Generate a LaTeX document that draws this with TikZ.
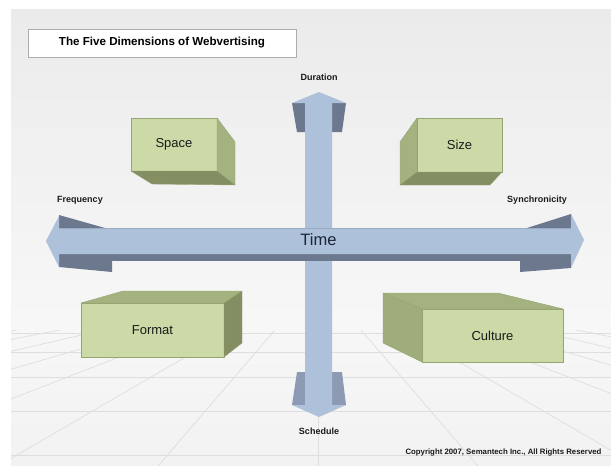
\documentclass[tikz,border=0pt]{standalone}
\usepackage{fontspec}
\setmainfont{Liberation Sans}
\setsansfont{Liberation Sans}
\usetikzlibrary{positioning, calc}
\definecolor{slideTop}{HTML}{EBEBEB}
\definecolor{slideMid}{HTML}{F7F7F7}
\definecolor{floorBot}{HTML}{F2F2F2}
\definecolor{gridln}{HTML}{DEDEDE}
\definecolor{arFace}{HTML}{AEC1DA}
\definecolor{arEdge}{HTML}{9AAAC2}
\definecolor{arDark}{HTML}{6C788D}
\definecolor{arMid}{HTML}{8C9BB3}
\definecolor{bxFront}{HTML}{CCDAA7}
\definecolor{bxLine}{HTML}{95A472}
\definecolor{bxSide}{HTML}{A3B27E}
\definecolor{bxDark}{HTML}{838F63}
\definecolor{ink}{HTML}{1A1A1A}
\definecolor{inkT}{HTML}{1B2538}

\begin{document}
\begin{tikzpicture}[
    x=1pt, y=-1pt,
    font=\sffamily,
    face/.style={
        rectangle, draw=bxLine, fill=bxFront, line width=0.4pt,
        inner sep=0pt, outer sep=0pt, text=ink,
        font=\sffamily\fontsize{13}{15}\selectfont
    },
    lightside/.style={draw=bxLine, fill=bxSide, line width=0.4pt, line join=round},
    darkside/.style={draw=bxLine, fill=bxDark, line width=0.4pt, line join=round},
    wing/.style={fill=arDark},
    lowwing/.style={fill=arMid},
    axislbl/.style={font=\sffamily\bfseries\fontsize{9}{11}\selectfont, text=ink},
    titlebox/.style={
        rectangle, draw=gray!65, fill=white, line width=0.6pt,
        minimum width=268pt, minimum height=28pt, inner sep=0pt,
        font=\sffamily\bfseries\fontsize{11.6}{13}\selectfont, text=black
    },
]
\useasboundingbox (0,0) rectangle (611,466);

% ---------------------------------------------------------------- slide and floor
\fill[white] (0,0) rectangle (611,466);
\fill[top color=slideTop, bottom color=slideMid] (11,9) rectangle (611,320);
\fill[top color=slideMid, bottom color=floorBot] (11,320) rectangle (611,466);
\begin{scope}
    \clip (11,330) rectangle (611,466);
    \foreach \yy in {333,352,377,411,455}
        \draw[gridln, line width=0.7pt] (11,\yy) -- (611,\yy);
    \foreach \k in {-8,...,8}
        \draw[gridln, line width=0.7pt] (318,280) -- ($(318,280)!2.2!(318+160*\k,466)$);
\end{scope}

\node (title) [titlebox] at (162,43) {The Five Dimensions of Webvertising};

% ---------------------------------------------------------------- boxes
\node (space) [face, minimum width=86pt, minimum height=53pt] at (174,144.5) {Space};
\draw[lightside] (space.north east) -- ++(18,24) -- ++(0,43) -- (space.south east) -- cycle;
\draw[darkside]  (space.south west) -- (space.south east) -- ++(18,14) -- ++(-83,-1) -- cycle;

\node (size) [face, minimum width=85pt, minimum height=54pt] at (459.5,145) {Size};
\draw[lightside] (size.north west) -- ++(-17,24) -- ++(0,43) -- (size.south west) -- cycle;
\draw[darkside]  (size.south west) -- (size.south east) -- ++(-12,13) -- ++(-90,0) -- cycle;

\node (format) [face, minimum width=143pt, minimum height=54pt] at (152.5,330) {Format};
\draw[lightside] (format.north west) -- ++(42,-12) -- ++(119,0) -- (format.north east) -- cycle;
\draw[darkside]  (format.north east) -- ++(18,-12) -- ++(0,52) -- (format.south east) -- cycle;

\node (culture) [face, minimum width=141pt, minimum height=53pt] at (492.5,335.5) {Culture};
\draw[lightside] (culture.north west) -- ++(-39,-16) -- ++(115,0) -- (culture.north east) -- cycle;
\draw[lightside, fill=bxSide!85!bxDark] (culture.north west) -- ++(-39,-16) -- ++(0,50) -- (culture.south west) -- cycle;

% ---------------------------------------------------------------- vertical arrow
\fill[wing]    (292,103) -- (305,103) -- (305,132) -- (297,132) -- cycle;
\fill[wing]    (332,103) -- (346,103) -- (342,132) -- (332,132) -- cycle;
\fill[lowwing] (297,372) -- (305,372) -- (305,405) -- (292,405) -- cycle;
\fill[lowwing] (332,372) -- (342,372) -- (346,405) -- (332,405) -- cycle;
\fill[arFace]  (319,92) -- (346,103) -- (332,103) -- (332,405) -- (346,405)
    -- (319,417) -- (292,405) -- (305,405) -- (305,103) -- (292,103) -- cycle;

% ---------------------------------------------------------------- horizontal arrow
\fill[wing] (59,215) -- (105,228) -- (59,228) -- cycle;
\fill[wing] (59,254) -- (112,254) -- (112,272) -- (59,267) -- cycle;
\fill[wing] (571,214) -- (527,228) -- (571,228) -- cycle;
\fill[wing] (520,254) -- (571,254) -- (571,268) -- (520,272) -- cycle;
\fill[arDark] (59,254) rectangle (571,261);
\fill[arFace] (46,241) -- (59,216) -- (59,228) -- (571,228) -- (571,214) -- (584,240)
    -- (571,268) -- (571,254) -- (59,254) -- (59,267) -- cycle;
\draw[arEdge, line width=0.5pt] (59,228) -- (571,228);

\node (time) [font=\sffamily\fontsize{16.5}{18}\selectfont, text=inkT] at (318.5,240) {Time};

% ---------------------------------------------------------------- axis ends
\node (dur)   [axislbl] at (319,77)  {Duration};
\node (sched) [axislbl] at (319,431) {Schedule};
\node (freq)  [axislbl] at (80,200)  {Frequency};
\node (sync)  [axislbl] at (537,200) {Synchronicity};

\node (copy) [anchor=east, font=\sffamily\bfseries\fontsize{7.8}{9}\selectfont, text=ink]
    at (605,452) {Copyright 2007, Semantech Inc., All Rights Reserved};

\end{tikzpicture}
\end{document}
